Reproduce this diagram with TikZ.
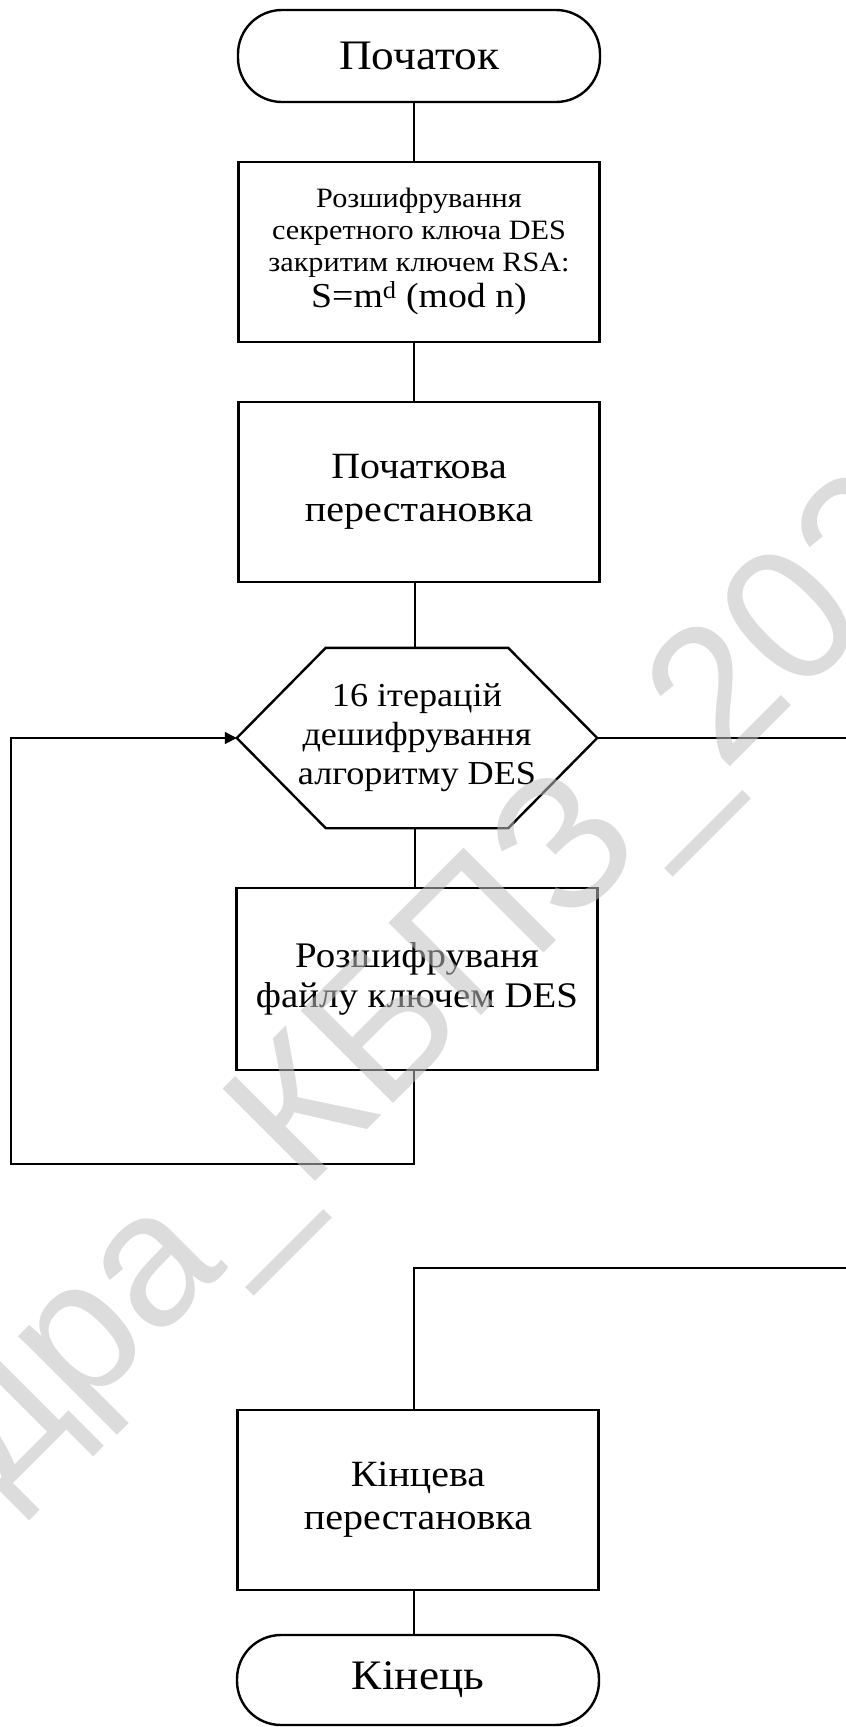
\documentclass[tikz,border=0pt]{standalone}
\usepackage{fontspec}
\setmainfont[FakeStretch=1.08]{Liberation Serif}
\newfontfamily\wmfont{Liberation Sans}
\usetikzlibrary{arrows.meta}

\begin{document}
\begin{tikzpicture}[x=1pt,y=-1pt,
  boxline/.style={draw=black,line width=2.4pt},
  proc/.style={boxline,rectangle,minimum width=361pt,minimum height=180pt,
    align=center,inner sep=0pt},
  term/.style={boxline,rectangle,rounded corners=44pt,minimum width=362pt,
    minimum height=90pt,inner sep=0pt},
  conn/.style={draw=black,line width=1.6pt},
  tip/.style={-{Triangle[length=12pt,width=12pt]}},
  wm/.style={rotate=45,anchor=base west,text=black!25,text opacity=0.55,
    font=\wmfont\fontsize{190}{190}\selectfont}
]
\useasboundingbox (0,0) rectangle (846,1727);

% blocks of the flowchart
\node[term,minimum height=92pt,font=\fontsize{42}{48}\selectfont] (start) at (419,56) {Початок};
\node[proc,font=\fontsize{28}{32}\selectfont] (box1) at (419,252)
  {Розшифрування\\секретного ключа DES\\закритим ключем RSA:\\[4pt]
   {\fontsize{35}{36}\selectfont S=m\textsuperscript{d} (mod n)}};
\node[proc,font=\fontsize{37}{43}\selectfont] (box2) at (419,492)
  {Початкова\\перестановка};
\node[minimum width=360pt,minimum height=180pt,inner sep=0pt,align=center,
  font=\fontsize{33.5}{39}\selectfont] (hex) at (417,738)
  {16 ітерацій\\дешифрування\\алгоритму DES};
\draw[boxline] ([xshift=89pt]hex.north west) -- ([xshift=-89pt]hex.north east)
  -- (hex.east) -- ([xshift=-89pt]hex.south east)
  -- ([xshift=89pt]hex.south west) -- (hex.west) -- cycle;
\node[proc,minimum height=182pt,font=\fontsize{36}{40}\selectfont] (box3) at (417,979)
  {Розшифруваня\\файлу ключем DES};
\node[proc,font=\fontsize{37}{43}\selectfont] (box4) at (418,1500)
  {Кінцева\\перестановка};
\node[term,font=\fontsize{42}{48}\selectfont] (stop) at (418,1680) {Кінець};

% free ends of the connectors
\coordinate (loopcorner) at (11,1164);
\coordinate (outright) at (846,738);
\coordinate (inright) at (846,1268);

% connectors
\draw[conn] ([xshift=-5pt]start.south) -- ([xshift=-5pt]box1.north);
\draw[conn] ([xshift=-5pt]box1.south) -- ([xshift=-5pt]box2.north);
\draw[conn] ([xshift=-4pt]box2.south) -- ([xshift=-2pt]hex.north);
\draw[conn] ([xshift=-2pt]hex.south) -- ([xshift=-2pt]box3.north);
\draw[conn,tip] ([xshift=-3pt]box3.south) |- (loopcorner) |- (hex.west);
\draw[conn] (hex.east) -- (outright);
\draw[conn] (inright) -| ([xshift=-4pt]box4.north);
\draw[conn] ([xshift=-4pt]box4.south) -- ([xshift=-4pt]stop.north);

% watermark
\begin{scope}
  \clip (0,0) rectangle (846,1727);
  \node[wm] (mark) at (-336,1833) {Кафедра\_КБПЗ\_2022};
\end{scope}
\end{tikzpicture}
\end{document}
